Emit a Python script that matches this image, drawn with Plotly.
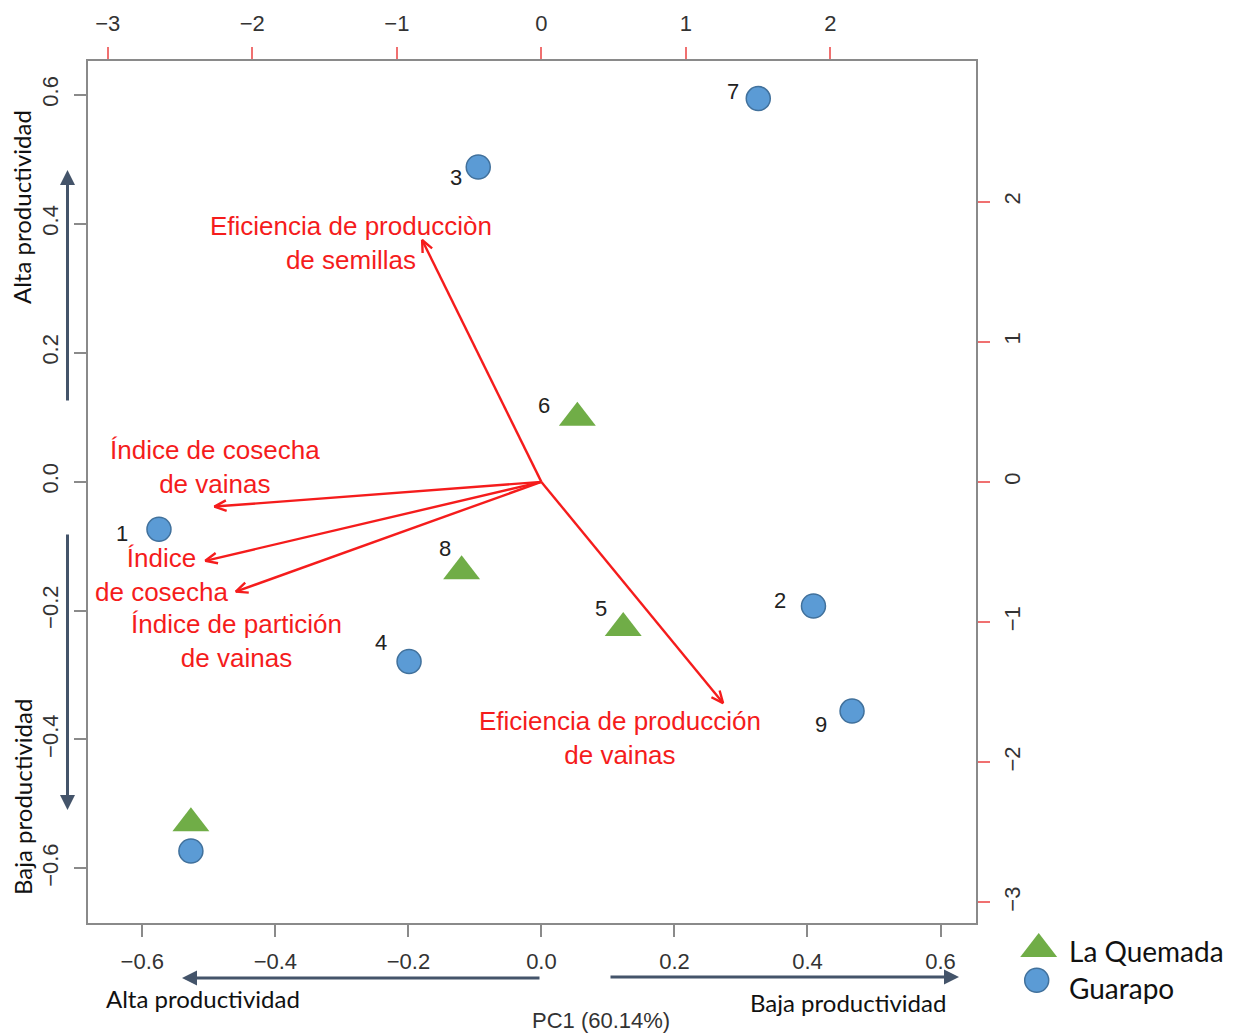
import math
import plotly.graph_objects as go

# ---------------- data ----------------
guarapo_ids = ["7", "3", "1", "4", "2", "9", ""]
guarapo_pc1 = [0.326, -0.095, -0.575, -0.199, 0.409, 0.467, -0.527]
guarapo_pc2 = [0.594, 0.488, -0.074, -0.279, -0.193, -0.356, -0.573]

quemada_ids = ["6", "8", "5", ""]
quemada_pc1 = [0.054, -0.120, 0.123, -0.527]
quemada_pc2 = [0.099, -0.139, -0.227, -0.530]

variables = [
    "Eficiencia de producciòn<br>de semillas",
    "Índice de cosecha<br>de vainas",
    "Índice<br>de cosecha",
    "Índice de partición<br>de vainas",
    "Eficiencia de producción<br>de vainas",
]
load_pc1 = [-0.825, -2.262, -2.325, -2.114, 1.257]
load_pc2 = [1.726, -0.176, -0.563, -0.783, -1.578]

x_ticks = [-0.6, -0.4, -0.2, 0.0, 0.2, 0.4, 0.6]
y_ticks = [-0.6, -0.4, -0.2, 0.0, 0.2, 0.4, 0.6]
x2_ticks = [-3, -2, -1, 0, 1, 2]
y2_ticks = [-3, -2, -1, 0, 1, 2]

# ---------------- layout constants ----------------
OFF = 8  # page body margin of the browser
W, H = 1233 - OFF, 1034 - OFF
PL, PR, PT, PB = 87.8, 975.5, 61.0, 922.7  # plot box in window pixels
XR = [-0.682, 0.6526]
YR = [-0.6842, 0.6523]
X2R = [-3.138, 3.0035]
Y2R = [-3.145, 3.003]


def px(xp):
    return (xp - OFF) / W


def py(yp):
    return 1 - (yp - OFF) / H


RED = "#f51c1c"
NAVY = "#44546A"
TICKFONT = dict(family="Arial, Liberation Sans, sans-serif", size=22, color="#333333")
CAL = "Lato, Carlito, Calibri, sans-serif"

fig = go.Figure()

# ---------------- loading arrows (secondary axes) ----------------
sx = (PR - PL) / (X2R[1] - X2R[0])
sy = (PB - PT) / (Y2R[1] - Y2R[0])
head_len, head_ang = 13.0, math.radians(24)
for lx, ly in zip(load_pc1, load_pc2):
    dx, dy = lx * sx, ly * sy
    n = math.hypot(dx, dy)
    ux, uy = dx / n, dy / n
    hx, hy = [], []
    for s in (1, -1):
        c, si = math.cos(s * head_ang), math.sin(s * head_ang)
        rx, ry = ux * c - uy * si, ux * si + uy * c
        hx.append(lx - head_len * rx / sx)
        hy.append(ly - head_len * ry / sy)
    fig.add_trace(go.Scatter(
        x=[0, lx, None, hx[0], lx, hx[1]],
        y=[0, ly, None, hy[0], ly, hy[1]],
        mode="lines", line=dict(color=RED, width=2.4),
        xaxis="x2", yaxis="y2", showlegend=False, hoverinfo="skip"))

# ---------------- observation points ----------------
fig.add_trace(go.Scatter(
    x=quemada_pc1, y=quemada_pc2, mode="markers", name="La Quemada",
    marker=dict(symbol="triangle-up", size=32, color="#70AD47", line=dict(width=0)),
    showlegend=False))
fig.add_trace(go.Scatter(
    x=guarapo_pc1, y=guarapo_pc2, mode="markers", name="Guarapo",
    marker=dict(symbol="circle", size=24, color="#5B9BD5", line=dict(color="#41719C", width=1.5)),
    showlegend=False))

# point labels (pixel offsets from each point)
g_off = [(-25, 7), (-22, -11), (-37, -4), (-28, 19), (-33, 6), (-31, -13), (0, 0)]
q_off = [(-33, 12), (-17, 23), (-22, 19), (0, 0)]
for ids, xs, ys, offs in ((guarapo_ids, guarapo_pc1, guarapo_pc2, g_off),
                          (quemada_ids, quemada_pc1, quemada_pc2, q_off)):
    for t, x, y, (ox, oy) in zip(ids, xs, ys, offs):
        if not t:
            continue
        fig.add_annotation(x=x, y=y, xref="x", yref="y", text=t, showarrow=False,
                           xshift=ox, yshift=oy,
                           font=dict(family="Arial, Liberation Sans, sans-serif", size=22, color="#222222"))

# variable labels (positions in PC1/PC2 units)
var_label_pos = [(-0.2865, 0.3701), (-0.491, 0.0228), (-0.5707, -0.1447),
                 (-0.4579, -0.2470), (0.118, -0.3974)]
for txt, (lx, ly) in zip(variables, var_label_pos):
    fig.add_annotation(x=lx, y=ly, xref="x", yref="y", text=txt, showarrow=False,
                       font=dict(family="Arial, Liberation Sans, sans-serif", size=26, color=RED),
                       align="center")

# ---------------- productivity arrows & texts ----------------
arrows = [  # (head_x, head_y, tail_x, tail_y) in window pixels
    (67.5, 170, 67.5, 402),
    (67.5, 810, 67.5, 533),
    (182, 978, 541, 978),
    (959, 977, 609, 977),
]
for hx_, hy_, tx_, ty_ in arrows:
    fig.add_annotation(x=px(hx_), y=py(hy_), xref="paper", yref="paper",
                       ax=tx_ - hx_, ay=ty_ - hy_, axref="pixel", ayref="pixel",
                       text="", showarrow=True, arrowhead=2, arrowsize=1.0,
                       arrowwidth=3, arrowcolor=NAVY)

side_texts = [
    ("Alta productividad", 22, 207, -90),
    ("Baja productividad", 22, 797, -90),
    ("Alta productividad", 203, 998, 0),
    ("Baja productividad", 848, 1002, 0),
]
for txt, xp, yp, ang in side_texts:
    fig.add_annotation(x=px(xp), y=py(yp), xref="paper", yref="paper", text=txt,
                       showarrow=False, textangle=ang, xanchor="center", yanchor="middle",
                       font=dict(family=CAL, size=24, color="#111111"))

fig.add_annotation(x=px(601), y=py(1020), xref="paper", yref="paper", text="PC1 (60.14%)",
                   showarrow=False, xanchor="center", yanchor="middle",
                   font=dict(family="Arial, Liberation Sans, sans-serif", size=22, color="#333333"))

# ---------------- legend (drawn on its own small axes) ----------------
fig.add_trace(go.Scatter(
    x=[38.7], y=[51], mode="markers", xaxis="x3", yaxis="y3", showlegend=False,
    marker=dict(symbol="triangle-up", size=32, color="#70AD47", line=dict(width=0)), hoverinfo="skip"))
fig.add_trace(go.Scatter(
    x=[36.7], y=[19.8], mode="markers", xaxis="x3", yaxis="y3", showlegend=False,
    marker=dict(symbol="circle", size=24, color="#5B9BD5", line=dict(color="#41719C", width=1.5)),
    hoverinfo="skip"))
for txt, yp in (("La Quemada", 951), ("Guarapo", 988)):
    fig.add_annotation(x=px(1067), y=py(yp), xref="paper", yref="paper", text=txt,
                       showarrow=False, xanchor="left", yanchor="middle",
                       font=dict(family=CAL, size=28, color="#111111"))

# ---------------- axes ----------------
xdom = [px(PL), px(PR)]
ydom = [py(PB), py(PT)]
common = dict(showgrid=False, zeroline=False, automargin=False, ticks="outside",
              ticklen=12, tickwidth=1.5, tickfont=TICKFONT)

fig.update_layout(
    width=W, height=H, margin=dict(l=0, r=0, t=0, b=0, autoexpand=False),
    paper_bgcolor="white", plot_bgcolor="white", showlegend=False,
    xaxis=dict(domain=xdom, range=XR, tickvals=x_ticks,
               ticktext=[f"{v:.1f}".replace("-", "\u2212") for v in x_ticks],
               showline=True, linecolor="#8a8a8a", linewidth=2, mirror=False,
               tickcolor="#8a8a8a", ticklabelstandoff=6, anchor="y", **common),
    yaxis=dict(domain=ydom, range=YR, tickvals=y_ticks,
               ticktext=[f"{v:.1f}".replace("-", "\u2212") for v in y_ticks],
               showline=True, linecolor="#8a8a8a", linewidth=2, mirror=False,
               tickcolor="#8a8a8a", tickangle=-90, ticklabelstandoff=7, anchor="x", **common),
    xaxis2=dict(domain=xdom, range=X2R, tickvals=x2_ticks,
                ticktext=[str(v).replace("-", "\u2212") for v in x2_ticks],
                overlaying="x", side="top", anchor="y2",
                showline=True, linecolor="#8a8a8a", linewidth=2,
                tickcolor="#f07070", ticklabelstandoff=7, **common),
    yaxis2=dict(domain=ydom, range=Y2R, tickvals=y2_ticks,
                ticktext=[str(v).replace("-", "\u2212") for v in y2_ticks],
                overlaying="y", side="right", anchor="x2",
                showline=True, linecolor="#8a8a8a", linewidth=2,
                tickcolor="#f07070", tickangle=-90, ticklabelstandoff=4, **common),
    xaxis3=dict(domain=[px(1000), px(1080)], range=[0, 80], visible=False, anchor="y3"),
    yaxis3=dict(domain=[py(1000), py(920)], range=[0, 80], visible=False, anchor="x3"),
)

fig.write_html("out.html")
